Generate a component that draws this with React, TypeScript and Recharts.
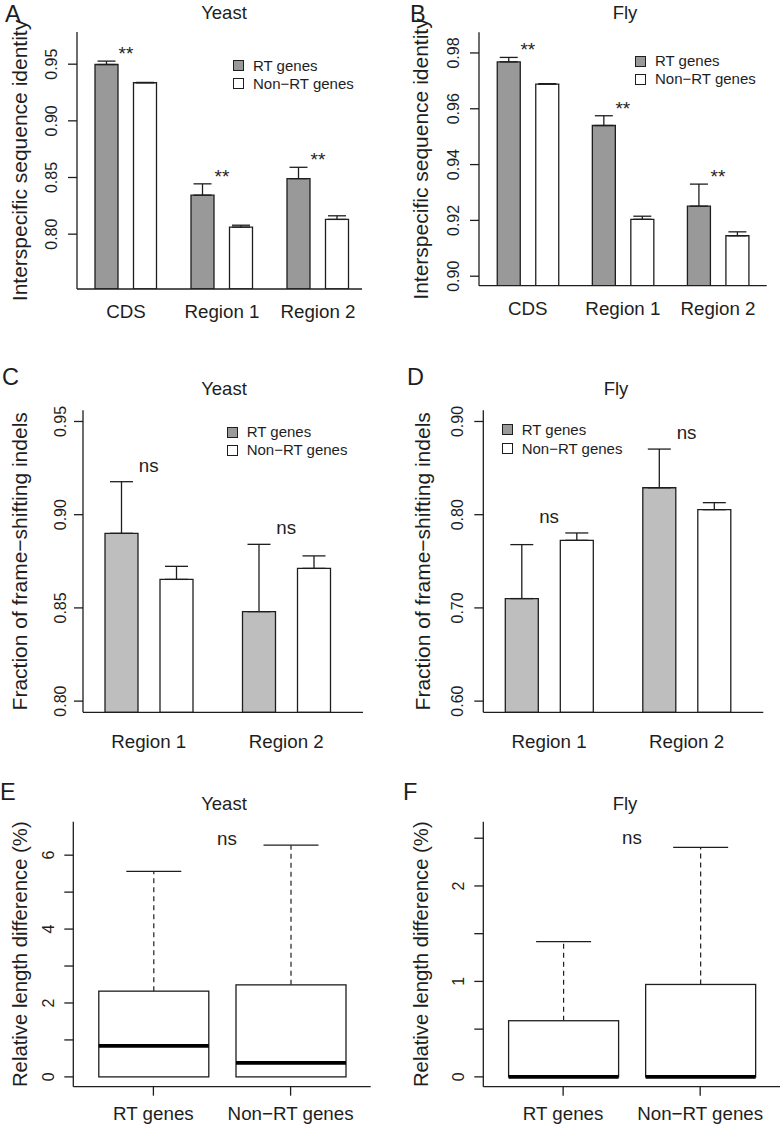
import React from "react";
import { ComposedChart, Bar, XAxis, YAxis, ErrorBar, Scatter, Legend } from "recharts";

const FONT = '"Liberation Sans", Arial, Helvetica, sans-serif';
const INK = "#1e1e1e";
const LW = 1.3;

const seriesNames = ["RT genes", "Non\u2212RT genes"];

// A / B : interspecific sequence identity
const idCats = ["CDS", "Region 1", "Region 2"];
const yeastIdRT = [0.9497, 0.8344, 0.849];
const yeastIdRTErr = [0.003, 0.01, 0.01];
const yeastIdNon = [0.9336, 0.8062, 0.813];
const yeastIdNonErr = [0.0003, 0.0017, 0.0032];
const yeastIdSig = ["**", "**", "**"];

const flyIdRT = [0.9768, 0.954, 0.9251];
const flyIdRTErr = [0.0016, 0.0035, 0.0079];
const flyIdNon = [0.9688, 0.9204, 0.9145];
const flyIdNonErr = [0.0002, 0.0011, 0.0014];
const flyIdSig = ["**", "**", "**"];

// C / D : fraction of frame-shifting indels
const fsCats = ["Region 1", "Region 2"];
const yeastFsRT = [0.89, 0.848];
const yeastFsRTErr = [0.0277, 0.0361];
const yeastFsNon = [0.8653, 0.8712];
const yeastFsNonErr = [0.007, 0.0067];
const yeastFsSig = ["ns", "ns"];

const flyFsRT = [0.71, 0.8289];
const flyFsRTErr = [0.0579, 0.0415];
const flyFsNon = [0.7725, 0.8054];
const flyFsNonErr = [0.0079, 0.0075];
const flyFsSig = ["ns", "ns"];

// E / F : relative length difference (%), box plots
const boxCats = ["RT genes", "Non\u2212RT genes"];
const yeastLenQ1 = [0, 0];
const yeastLenMed = [0.84, 0.38];
const yeastLenQ3 = [2.32, 2.49];
const yeastLenHi = [5.56, 6.27];

const flyLenQ1 = [0, 0];
const flyLenMed = [0, 0];
const flyLenQ3 = [0.588, 0.968];
const flyLenHi = [1.417, 2.403];

// axis ticks
const yeastIdTicks = [0.8, 0.85, 0.9, 0.95];
const flyIdTicks = [0.9, 0.92, 0.94, 0.96, 0.98];
const yeastFsTicks = [0.8, 0.85, 0.9, 0.95];
const flyFsTicks = [0.6, 0.7, 0.8, 0.9];
const yeastLenTicks = [0, 1, 2, 3, 4, 5, 6];
const flyLenTicks = [0, 0.5, 1, 1.5, 2, 2.5];

const barRows = (cats: string[], rt: number[], rtErr: number[], non: number[], nonErr: number[], sig: string[]) =>
  cats.map((cat, i) => ({
    cat,
    rt: rt[i],
    non: non[i],
    rtErr: [0, rtErr[i]],
    nonErr: [0, nonErr[i]],
    sig: sig[i],
    sigY: Math.max(rt[i] + rtErr[i], non[i] + nonErr[i]),
  }));

const boxRows = (q1: number[], med: number[], q3: number[], hi: number[]) =>
  boxCats.map((cat, i) => ({ cat, q1: q1[i], med: med[i], q3: q3[i], hi: hi[i] }));

const two = (v: number) => v.toFixed(2);

const ValTick = (p: any) => {
  const label = p.fmt(p.payload.value);
  if (label === "") return null;
  const bx = p.x - p.gap;
  return (
    <text x={bx} y={p.y} transform={`rotate(-90 ${bx} ${p.y})`} textAnchor="middle"
      fontSize={16} fill={INK} fontFamily={FONT}>{label}</text>
  );
};

const CatTick = (p: any) => (
  <text x={p.x} y={p.y + p.dy} textAnchor="middle" fontSize={18.75} fill={INK} fontFamily={FONT}>
    {p.payload.value}
  </text>
);

const AxisTitle = (p: any) => {
  const vb = p.viewBox || {};
  const cy = (vb.y ?? 0) + (vb.height ?? 0) / 2;
  return (
    <text x={p.tx} y={cy} transform={`rotate(-90 ${p.tx} ${cy})`} textAnchor="middle"
      fontSize={p.size} fill={INK} fontFamily={FONT}>{p.text}</text>
  );
};

const SigMark = (p: any) => (
  <text x={p.cx} y={p.cy + p.dy} textAnchor="middle" fontSize={p.size} fill={INK} fontFamily={FONT}>
    {p.payload.sig}
  </text>
);

// legend key drawn in the original series order, with its own swatch greys
const KeyBox = ({ swatches, rowH }: any) => (
  <div style={{ fontFamily: FONT, fontSize: 15, color: INK, whiteSpace: "nowrap" }}>
    {seriesNames.map((name, i) => (
      <div key={name} style={{ display: "flex", alignItems: "center", height: rowH }}>
        <span style={{ display: "inline-block", width: 9, height: 9, border: `1px solid ${INK}`, background: swatches[i], marginRight: 9 }} />
        <span style={{ lineHeight: `${rowH}px` }}>{name}</span>
      </div>
    ))}
  </div>
);

const BoxShape = (p: any) => {
  const { x, y, width, height, payload } = p;
  const top = Math.min(y, y + height);
  const h = Math.abs(height);
  const ppu = h / (payload.q3 - payload.q1);
  const yMed = top + (payload.q3 - payload.med) * ppu;
  const yHi = top - (payload.hi - payload.q3) * ppu;
  const cx = x + width / 2;
  return (
    <g>
      <line x1={cx} y1={top} x2={cx} y2={yHi} stroke={INK} strokeWidth={1.2} strokeDasharray="5 4" />
      <line x1={cx - width / 4} y1={yHi} x2={cx + width / 4} y2={yHi} stroke={INK} strokeWidth={LW} />
      <rect x={x} y={top} width={width} height={h} fill="#fff" stroke={INK} strokeWidth={LW} />
      <line x1={x} y1={yMed} x2={x + width} y2={yMed} stroke="#000" strokeWidth={3.6} />
    </g>
  );
};

const frameLine = { stroke: INK, strokeWidth: LW };

function BarPanel(c: any) {
  const g = c.geo;
  return (
    <div style={{ position: "absolute", left: g.left, top: g.top }}>
      <ComposedChart width={g.w} height={g.h} data={c.rows} barGap={c.barGap}
        margin={{ top: g.mTop, right: g.mRight, bottom: 0, left: 0 }}>
        <XAxis dataKey="cat" height={g.xH} padding={g.pad} interval={0} tickSize={0} tickMargin={0}
          tickLine={false} axisLine={frameLine} tick={(p: any) => <CatTick {...p} dy={c.xLabDy} />} />
        <XAxis xAxisId="top" dataKey="cat" orientation="top" height={0} tick={false} tickLine={false} axisLine={frameLine} />
        <YAxis width={g.yW} type="number" domain={c.domain} allowDataOverflow ticks={c.ticks} interval={0}
          tickSize={9} tickMargin={0} tickLine={frameLine} axisLine={frameLine}
          tick={(p: any) => <ValTick {...p} fmt={c.fmt} gap={c.tickGap} />}
          label={(p: any) => <AxisTitle {...p} text={c.yTitle} tx={c.yTitleX} size={21} />} />
        <YAxis yAxisId="right" orientation="right" width={0} type="number" domain={c.domain} allowDataOverflow
          tick={false} tickLine={false} axisLine={frameLine} />
        <Legend layout="vertical" align="center" verticalAlign="middle"
          wrapperStyle={{ left: c.legend.left, top: c.legend.top, width: "auto" }}
          content={() => <KeyBox swatches={c.swatches} rowH={c.legend.rowH} />} />
        <Bar dataKey="rt" name={seriesNames[0]} fill={c.rtFill} stroke={INK} strokeWidth={LW}
          barSize={c.barSize} isAnimationActive={false}>
          <ErrorBar dataKey="rtErr" width={c.cap} stroke={INK} strokeWidth={LW} direction="y" />
        </Bar>
        <Bar dataKey="non" name={seriesNames[1]} fill="#ffffff" stroke={INK} strokeWidth={LW}
          barSize={c.barSize} isAnimationActive={false}>
          <ErrorBar dataKey="nonErr" width={c.cap} stroke={INK} strokeWidth={LW} direction="y" />
        </Bar>
        <Scatter dataKey="sigY" legendType="none" isAnimationActive={false}
          shape={(p: any) => <SigMark {...p} dy={c.sigDy} size={c.sigSize} />} />
      </ComposedChart>
    </div>
  );
}

function BoxPanel(c: any) {
  const g = c.geo;
  return (
    <div style={{ position: "absolute", left: g.left, top: g.top }}>
      <ComposedChart width={g.w} height={g.h} data={c.rows}
        margin={{ top: g.mTop, right: g.mRight, bottom: 0, left: 0 }}>
        <XAxis dataKey="cat" height={g.xH} padding={g.pad} interval={0} tickSize={9} tickMargin={0}
          tickLine={frameLine} axisLine={frameLine} tick={(p: any) => <CatTick {...p} dy={c.xLabDy} />} />
        <XAxis xAxisId="top" dataKey="cat" orientation="top" height={0} tick={false} tickLine={false} axisLine={frameLine} />
        <YAxis width={g.yW} type="number" domain={c.domain} allowDataOverflow ticks={c.ticks} interval={0}
          tickSize={9} tickMargin={0} tickLine={frameLine} axisLine={frameLine}
          tick={(p: any) => <ValTick {...p} fmt={c.fmt} gap={c.tickGap} />}
          label={(p: any) => <AxisTitle {...p} text={c.yTitle} tx={c.yTitleX} size={20.3} />} />
        <YAxis yAxisId="right" orientation="right" width={0} type="number" domain={c.domain} allowDataOverflow
          tick={false} tickLine={false} axisLine={frameLine} />
        <Bar dataKey={(d: any) => [d.q1, d.q3]} barSize={110} shape={BoxShape} isAnimationActive={false} />
      </ComposedChart>
    </div>
  );
}

const overlayText = [
  { x: 5, y: 22, s: 23.5, a: "start", t: "A" },
  { x: 410, y: 22, s: 23.5, a: "start", t: "B" },
  { x: 2, y: 385, s: 23.5, a: "start", t: "C" },
  { x: 407, y: 385, s: 23.5, a: "start", t: "D" },
  { x: 0, y: 800, s: 23.5, a: "start", t: "E" },
  { x: 403, y: 800, s: 23.5, a: "start", t: "F" },
  { x: 224, y: 19, s: 18.5, a: "middle", t: "Yeast" },
  { x: 625, y: 19, s: 18.5, a: "middle", t: "Fly" },
  { x: 224, y: 395, s: 18.5, a: "middle", t: "Yeast" },
  { x: 616, y: 395, s: 18.5, a: "middle", t: "Fly" },
  { x: 224, y: 810, s: 18.5, a: "middle", t: "Yeast" },
  { x: 625, y: 810, s: 18.5, a: "middle", t: "Fly" },
  { x: 227, y: 845, s: 18.75, a: "middle", t: "ns" },
  { x: 632, y: 844, s: 18.75, a: "middle", t: "ns" },
];

export default function App() {
  return (
    <div style={{ position: "absolute", left: 0, top: 0, width: 781, height: 1124, background: "#fff" }}>
      <BarPanel
        geo={{ left: 0, top: 0, w: 390, h: 330, yW: 77, xH: 41, mTop: 32, mRight: 28, pad: { left: 1, right: -4 } }}
        rows={barRows(idCats, yeastIdRT, yeastIdRTErr, yeastIdNon, yeastIdNonErr, yeastIdSig)}
        domain={[0.7516, 0.9784]} ticks={yeastIdTicks} fmt={two} tickGap={10.5}
        rtFill="#999999" swatches={["#999999", "#ffffff"]} barSize={23} barGap={15.5} cap={9}
        legend={{ left: 233, top: 57, rowH: 17.7 }} yTitle="Interspecific sequence identity" yTitleX={26.5}
        xLabDy={29} sigDy={-1} sigSize={19} />
      <BarPanel
        geo={{ left: 390, top: 0, w: 391, h: 330, yW: 89, xH: 44.3, mTop: 32.3, mRight: 14.3, pad: { left: 1.25, right: 1.2 } }}
        rows={barRows(idCats, flyIdRT, flyIdRTErr, flyIdNon, flyIdNonErr, flyIdSig)}
        domain={[0.8966, 0.9874]} ticks={flyIdTicks} fmt={two} tickGap={10.5}
        rtFill="#999999" swatches={["#999999", "#ffffff"]} barSize={23} barGap={15.5} cap={9}
        legend={{ left: 245, top: 52, rowH: 18 }} yTitle="Interspecific sequence identity" yTitleX={37.5}
        xLabDy={29.3} sigDy={-1} sigSize={19} />
      <BarPanel
        geo={{ left: 0, top: 330, w: 390, h: 430, yW: 83, xH: 47.7, mTop: 80.3, mRight: 27, pad: { left: -3, right: 8 } }}
        rows={barRows(fsCats, yeastFsRT, yeastFsRTErr, yeastFsNon, yeastFsNonErr, yeastFsSig)}
        domain={[0.794, 0.956]} ticks={yeastFsTicks} fmt={two} tickGap={8}
        rtFill="#bebebe" swatches={["#9a9a9a", "#ffffff"]} barSize={33} barGap={22} cap={11.5}
        legend={{ left: 226.7, top: 93, rowH: 18 }} yTitle={"Fraction of frame\u2212shifting indels"} yTitleX={27.5}
        xLabDy={36} sigDy={-10} sigSize={18.75} />
      <BarPanel
        geo={{ left: 390, top: 330, w: 391, h: 430, yW: 93.3, xH: 47.7, mTop: 80.3, mRight: 17.7, pad: { left: -3, right: 8 } }}
        rows={barRows(fsCats, flyFsRT, flyFsRTErr, flyFsNon, flyFsNonErr, flyFsSig)}
        domain={[0.588, 0.912]} ticks={flyFsTicks} fmt={two} tickGap={11}
        rtFill="#bebebe" swatches={["#9a9a9a", "#ffffff"]} barSize={33} barGap={22} cap={11.5}
        legend={{ left: 111.7, top: 90, rowH: 19 }} yTitle={"Fraction of frame\u2212shifting indels"} yTitleX={40.5}
        xLabDy={36} sigDy={-10} sigSize={18.75} />
      <BoxPanel
        geo={{ left: 0, top: 760, w: 390, h: 364, yW: 73.3, xH: 37.3, mTop: 61.7, mRight: 19.3, pad: { left: 11.5, right: 11.5 } }}
        rows={boxRows(yeastLenQ1, yeastLenMed, yeastLenQ3, yeastLenHi)}
        domain={[-0.2656, 6.9056]} ticks={yeastLenTicks} fmt={(v: number) => (v % 2 === 0 ? String(v) : "")} tickGap={10.5}
        yTitle="Relative length difference (%)" yTitleX={27.3} xLabDy={24.3} />
      <BoxPanel
        geo={{ left: 390, top: 760, w: 391, h: 364, yW: 93.3, xH: 37.3, mTop: 61.7, mRight: 1, pad: { left: 11.3, right: 11.3 } }}
        rows={boxRows(flyLenQ1, flyLenMed, flyLenQ3, flyLenHi)}
        domain={[-0.103, 2.673]} ticks={flyLenTicks} fmt={(v: number) => (Number.isInteger(v) ? String(v) : "")} tickGap={10.5}
        yTitle="Relative length difference (%)" yTitleX={38.3} xLabDy={24.3} />
      <svg width={781} height={1124} style={{ position: "absolute", left: 0, top: 0, pointerEvents: "none" }}>
        {overlayText.map((o, i) => (
          <text key={i} x={o.x} y={o.y} fontSize={o.s} textAnchor={o.a as any} fill={INK} fontFamily={FONT}>{o.t}</text>
        ))}
      </svg>
    </div>
  );
}
